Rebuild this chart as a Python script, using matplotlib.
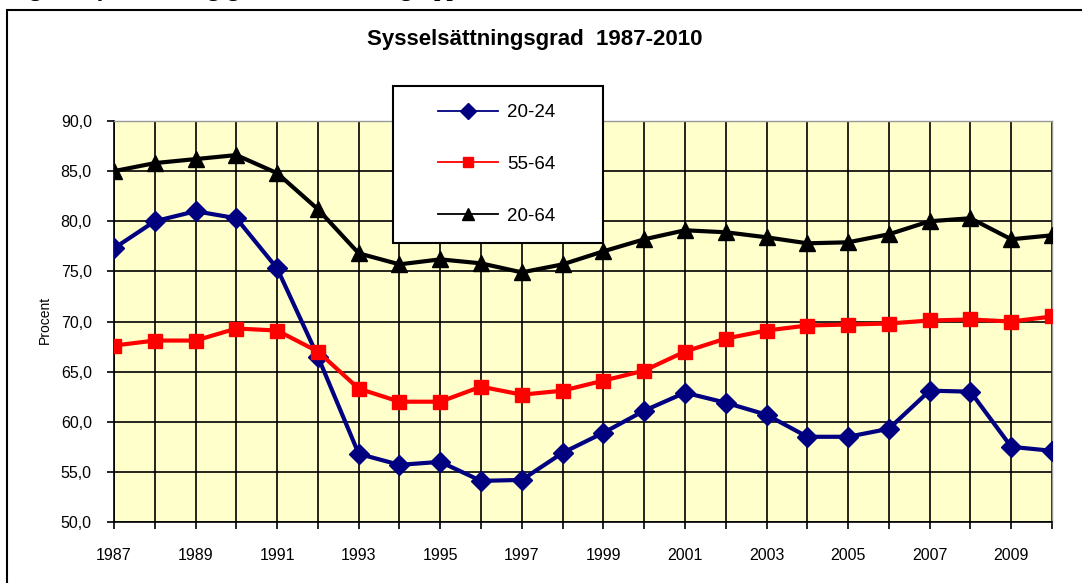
import matplotlib
matplotlib.use("Agg")
import matplotlib.pyplot as plt
from matplotlib.patches import Rectangle

years = list(range(1987, 2011))
s_20_24 = [77.3, 80.0, 81.0, 80.3, 75.3, 66.5, 56.8, 55.7, 56.0, 54.1, 54.2, 56.9,
           58.9, 61.1, 62.9, 61.9, 60.7, 58.5, 58.5, 59.3, 63.1, 63.0, 57.5, 57.1]
s_55_64 = [67.6, 68.1, 68.1, 69.3, 69.1, 67.0, 63.3, 62.0, 62.0, 63.5, 62.7, 63.1,
           64.1, 65.1, 67.0, 68.3, 69.1, 69.6, 69.7, 69.8, 70.1, 70.2, 70.0, 70.5]
s_20_64 = [85.0, 85.8, 86.2, 86.6, 84.8, 81.2, 76.8, 75.7, 76.2, 75.8, 74.9, 75.7,
           77.0, 78.2, 79.1, 78.9, 78.4, 77.8, 77.9, 78.7, 80.0, 80.3, 78.2, 78.6]
labels = ["20-24", "55-64", "20-64"]
yticks = [50, 55, 60, 65, 70, 75, 80, 85, 90]
xticks = list(range(1987, 2011, 2))
title = "Sysselsättningsgrad  1987-2010"

W, H = 1082, 583
fig = plt.figure(figsize=(W / 100, H / 100), dpi=100)
fig.patch.set_facecolor("white")

sans = ["Liberation Sans", "DejaVu Sans"]

# outer frame (continues off the right and bottom)
fig.add_artist(Rectangle((7 / W, -0.1), 1.2, (H - 10) / H + 0.1, transform=fig.transFigure,
                         fill=False, edgecolor="black", linewidth=1.5))

# clipped caption at very top
fig.text(10 / W, (H + 4) / H, "Figur 1 Sysselsättningsgrad i olika åldersgrupper",
         family=["Liberation Serif", "DejaVu Serif"], fontweight="bold", fontsize=16,
         ha="left", va="baseline")

x0, x1 = 114, 1052
y0, y1 = 121, 522
ax = fig.add_axes([x0 / W, 1 - y1 / H, (x1 - x0) / W, (y1 - y0) / H])
ax.set_facecolor("#FFFFCC")

ax.plot(years, s_20_24, color="#000080", lw=3, marker="D", ms=10, label=labels[0], zorder=3)
ax.plot(years, s_55_64, color="#FF0000", lw=3, marker="s", ms=9.5, label=labels[1], zorder=3)
ax.plot(years, s_20_64, color="black", lw=3, marker="^", ms=11, label=labels[2], zorder=3)

ax.set_xlim(1987, 2010)
ax.set_ylim(50, 90)
ax.set_xticks(years, minor=True)
ax.set_xticks(xticks)
ax.set_xticklabels([str(x) for x in xticks], family=sans, fontsize=11.5)
ax.set_yticks(yticks)
ax.set_yticklabels([f"{v:.1f}".replace(".", ",") for v in yticks], family=sans, fontsize=11.5)
ax.grid(True, which="both", axis="x", color="black", lw=1.2)
ax.grid(True, which="major", axis="y", color="black", lw=1.2)
ax.set_axisbelow(True)
ax.tick_params(axis="x", which="both", length=5, width=1.2, pad=14)
ax.tick_params(axis="y", length=5, width=1.2, pad=11)
for side in ["top", "right"]:
    ax.spines[side].set_color("#999999")
    ax.spines[side].set_linewidth(1.0)
for side in ["left", "bottom"]:
    ax.spines[side].set_color("black")
    ax.spines[side].set_linewidth(1.2)

fig.text(45 / W, 1 - 320 / H, "Procent", rotation=90, family=sans, fontsize=10,
         ha="center", va="center")
fig.text(535 / W, 1 - 40 / H, title, family=sans, fontweight="bold", fontsize=16,
         ha="center", va="center")

# legend box
box = Rectangle((393 / W, 1 - 243 / H), (603 - 393) / W, (243 - 86) / H,
                transform=fig.transFigure, facecolor="white", edgecolor="black",
                linewidth=1.5, zorder=4)
fig.add_artist(box)
leg = fig.legend(*ax.get_legend_handles_labels(), loc="upper left",
                 bbox_to_anchor=(438 / W, 1 - 104 / H),
                 frameon=False, prop={"family": sans, "size": 13.5}, handlelength=3.2,
                 labelspacing=1.85, borderpad=0, handletextpad=0.5, markerscale=0.8,
                 borderaxespad=0)
leg.set_zorder(5)
for h in leg.legend_handles:
    h.set_linewidth(1.3)

fig.savefig("out.png", dpi=100, facecolor="white")
